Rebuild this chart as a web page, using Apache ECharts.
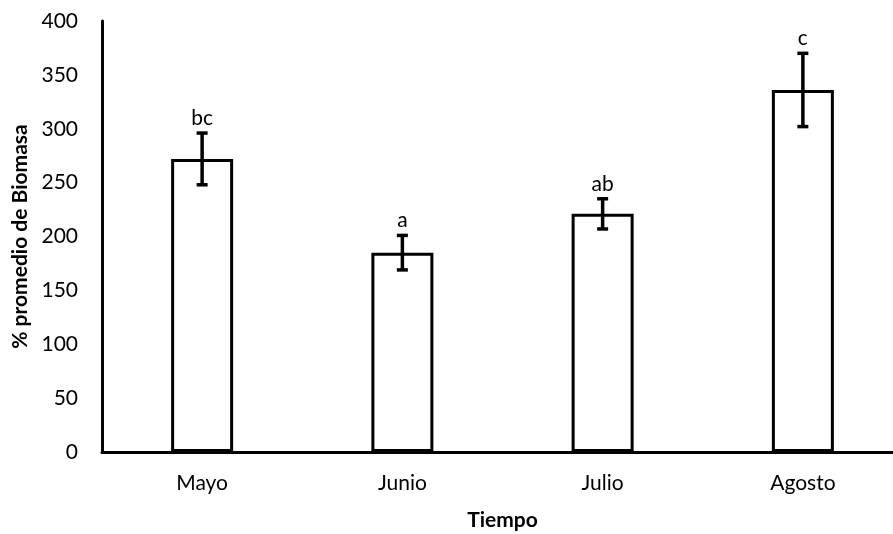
<!DOCTYPE html>
<html>
<head>
<meta charset="utf-8">
<script src="https://cdn.jsdelivr.net/npm/echarts@6/dist/echarts.min.js"></script>
<style>
html,body{margin:0;padding:0;background:#fff;}
#chart{width:893px;height:534px;}
</style>
</head>
<body>
<div id="chart"></div>
<script>
var categories = ['Mayo', 'Junio', 'Julio', 'Agosto'];
var means = [272, 185, 221, 336];
var errors = [24, 16, 14, 34];
var letters = ['bc', 'a', 'ab', 'c'];
var yTicks = [0, 50, 100, 150, 200, 250, 300, 350, 400];

var FONT = 'Lato, "Open Sans", sans-serif';
var FS = 21;
var chart = echarts.init(document.getElementById('chart'));

var errData = categories.map(function (c, i) {
  return [i, means[i], errors[i]];
});

chart.setOption({
  animation: false,
  backgroundColor: '#fff',
  grid: { left: 102, top: 21, bottom: 82, width: 801, containLabel: false, outerBoundsMode: 'none' },
  xAxis: {
    type: 'category',
    data: categories,
    name: 'Tiempo',
    nameLocation: 'middle',
    nameGap: 58,
    nameTextStyle: { fontFamily: FONT, fontSize: FS, fontWeight: 'bold', color: '#000' },
    axisLine: { lineStyle: { color: '#000', width: 3 } },
    axisTick: { show: false },
    axisLabel: { fontFamily: FONT, fontSize: FS, color: '#000', margin: 21 }
  },
  yAxis: {
    type: 'value',
    min: yTicks[0],
    max: yTicks[yTicks.length - 1],
    interval: 50,
    name: '% promedio de Biomasa',
    nameLocation: 'middle',
    nameGap: 71,
    nameTextStyle: { fontFamily: FONT, fontSize: FS, fontWeight: 'bold', color: '#000' },
    axisLine: { show: true, lineStyle: { color: '#000', width: 3 } },
    axisTick: { show: false },
    splitLine: { show: false },
    axisLabel: { fontFamily: FONT, fontSize: FS, color: '#000', margin: 24 }
  },
  series: [
    {
      type: 'bar',
      data: means,
      barWidth: 62,
      itemStyle: { color: '#fff', borderColor: '#000', borderWidth: 3 },
      z: 2
    },
    {
      type: 'custom',
      data: errData,
      z: 5,
      renderItem: function (params, api) {
        var i = api.value(0);
        var m = api.value(1);
        var e = api.value(2);
        var top = api.coord([i, m + e]);
        var bot = api.coord([i, m - e]);
        var hw = 5.5;
        var st = { stroke: '#000', lineWidth: 3.5 };
        return {
          type: 'group',
          children: [
            { type: 'line', shape: { x1: top[0], y1: top[1], x2: bot[0], y2: bot[1] }, style: st },
            { type: 'line', shape: { x1: top[0] - hw, y1: top[1], x2: top[0] + hw, y2: top[1] }, style: st },
            { type: 'line', shape: { x1: bot[0] - hw, y1: bot[1], x2: bot[0] + hw, y2: bot[1] }, style: st },
            {
              type: 'text',
              style: {
                text: letters[params.dataIndex],
                x: top[0], y: top[1] - 15,
                textAlign: 'center', textVerticalAlign: 'middle',
                fontFamily: FONT, fontSize: FS, fill: '#000'
              }
            }
          ]
        };
      }
    }
  ]
});
</script>
</body>
</html>
